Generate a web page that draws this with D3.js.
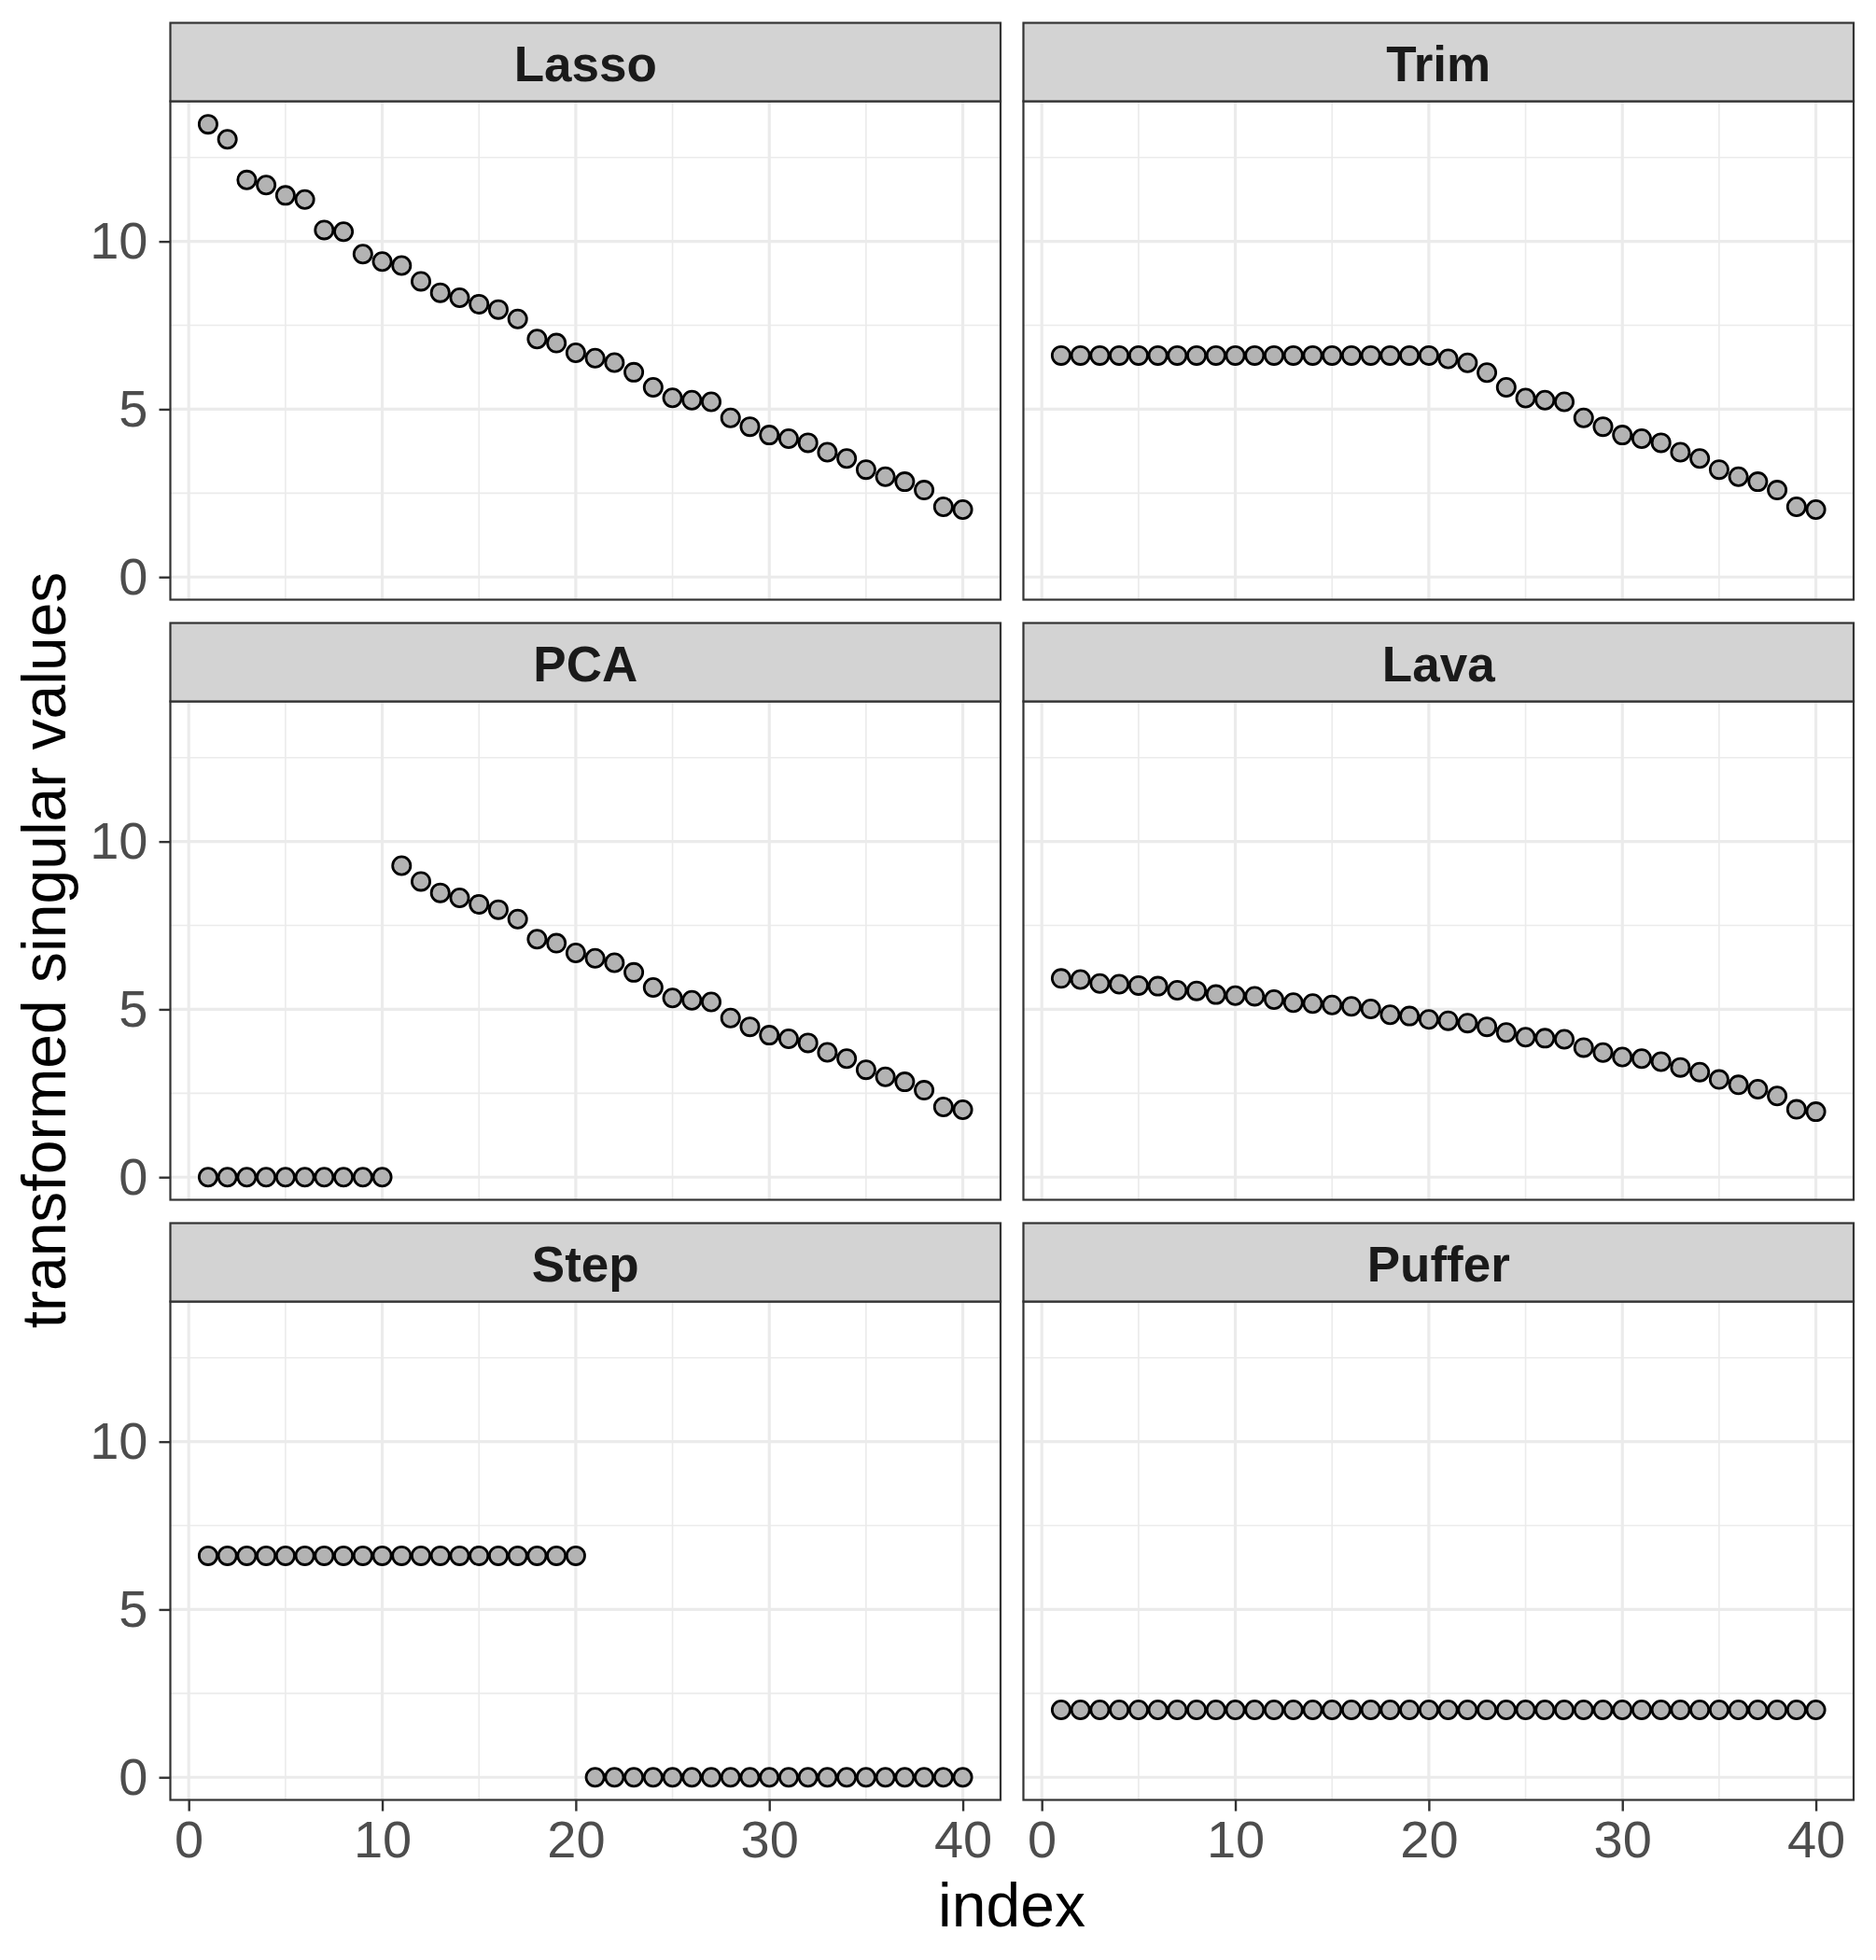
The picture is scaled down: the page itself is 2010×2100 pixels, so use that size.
<!DOCTYPE html>
<html>
<head>
<meta charset="utf-8">
<script src="https://cdn.jsdelivr.net/npm/d3@7"></script>
<style>
  body { margin: 0; background: #fff; }
  svg { font-family: "Liberation Sans", Arial, Helvetica, sans-serif; }
</style>
</head>
<body>
<svg id="chart" width="2010" height="2100"></svg>
<script>
// facet order, left to right then top to bottom
var methods = ["Lasso", "Trim", "PCA", "Lava", "Step", "Puffer"];
var index = d3.range(1, 41);

var lasso = [13.49, 13.04, 11.83, 11.68, 11.37, 11.25, 10.34, 10.29, 9.62, 9.40,
             9.28, 8.81, 8.47, 8.32, 8.13, 7.97, 7.69, 7.09, 6.97, 6.68,
             6.52, 6.39, 6.10, 5.65, 5.34, 5.27, 5.22, 4.74, 4.48, 4.23,
             4.12, 4.00, 3.72, 3.53, 3.20, 2.99, 2.84, 2.59, 2.09, 2.01];
var trim  = [6.60, 6.60, 6.60, 6.60, 6.60, 6.60, 6.60, 6.60, 6.60, 6.60,
             6.60, 6.60, 6.60, 6.60, 6.60, 6.60, 6.60, 6.60, 6.60, 6.60,
             6.50, 6.38, 6.09, 5.65, 5.33, 5.27, 5.22, 4.74, 4.48, 4.23,
             4.12, 4.00, 3.72, 3.53, 3.20, 2.99, 2.84, 2.59, 2.09, 2.01];
var pca   = [0, 0, 0, 0, 0, 0, 0, 0, 0, 0,
             9.28, 8.81, 8.47, 8.32, 8.13, 7.97, 7.69, 7.09, 6.97, 6.68,
             6.52, 6.39, 6.10, 5.65, 5.34, 5.27, 5.22, 4.74, 4.48, 4.23,
             4.12, 4.00, 3.72, 3.53, 3.20, 2.99, 2.84, 2.59, 2.09, 2.01];
var lava  = [5.92, 5.89, 5.77, 5.75, 5.71, 5.69, 5.57, 5.55, 5.44, 5.41,
             5.39, 5.29, 5.20, 5.17, 5.13, 5.09, 5.01, 4.84, 4.80, 4.70,
             4.66, 4.59, 4.48, 4.31, 4.17, 4.14, 4.11, 3.86, 3.71, 3.58,
             3.53, 3.44, 3.27, 3.13, 2.91, 2.75, 2.62, 2.42, 2.02, 1.95];
var step  = [6.60, 6.60, 6.60, 6.60, 6.60, 6.60, 6.60, 6.60, 6.60, 6.60,
             6.60, 6.60, 6.60, 6.60, 6.60, 6.60, 6.60, 6.60, 6.60, 6.60,
             0, 0, 0, 0, 0, 0, 0, 0, 0, 0,
             0, 0, 0, 0, 0, 0, 0, 0, 0, 0];
var puffer = [2.01, 2.01, 2.01, 2.01, 2.01, 2.01, 2.01, 2.01, 2.01, 2.01,
              2.01, 2.01, 2.01, 2.01, 2.01, 2.01, 2.01, 2.01, 2.01, 2.01,
              2.01, 2.01, 2.01, 2.01, 2.01, 2.01, 2.01, 2.01, 2.01, 2.01,
              2.01, 2.01, 2.01, 2.01, 2.01, 2.01, 2.01, 2.01, 2.01, 2.01];

var xTicks = [0, 10, 20, 30, 40],
    xMinor = [5, 15, 25, 35],
    yTicks = [0, 5, 10],
    yMinor = [2.5, 7.5, 12.5];

var series = [lasso, trim, pca, lava, step, puffer];

// layout
var panelW = 889.5, panelH = 534, stripH = 84;
var colX = [182.5, 1096.5],
    rowY = [24.5, 667.5, 1310.5];

var x = d3.scaleLinear().domain([-0.95, 41.95]).range([0, panelW]);
var y = d3.scaleLinear().domain([-0.675, 14.175]).range([panelH, 0]);

var svg = d3.select("#chart");

svg.append("rect")
    .attr("width", 2010)
    .attr("height", 2100)
    .attr("fill", "#fff");

var panel = svg.selectAll(".panel")
    .data(methods)
  .enter().append("g")
    .classed("panel", true)
    .attr("transform", function(d, i) {
      return "translate(" + colX[i % 2] + "," + (rowY[Math.floor(i / 2)] + stripH) + ")";
    });

// grid: minor first, then major
panel.each(function() {
  var g = d3.select(this);
  g.selectAll(".vminor").data(xMinor).enter().append("line")
      .attr("x1", function(d) { return x(d); }).attr("x2", function(d) { return x(d); })
      .attr("y1", 0).attr("y2", panelH)
      .attr("stroke", "#ebebeb").attr("stroke-width", 1.6);
  g.selectAll(".hminor").data(yMinor).enter().append("line")
      .attr("y1", function(d) { return y(d); }).attr("y2", function(d) { return y(d); })
      .attr("x1", 0).attr("x2", panelW)
      .attr("stroke", "#ebebeb").attr("stroke-width", 1.6);
  g.selectAll(".vmajor").data(xTicks).enter().append("line")
      .attr("x1", function(d) { return x(d); }).attr("x2", function(d) { return x(d); })
      .attr("y1", 0).attr("y2", panelH)
      .attr("stroke", "#ebebeb").attr("stroke-width", 3.2);
  g.selectAll(".hmajor").data(yTicks).enter().append("line")
      .attr("y1", function(d) { return y(d); }).attr("y2", function(d) { return y(d); })
      .attr("x1", 0).attr("x2", panelW)
      .attr("stroke", "#ebebeb").attr("stroke-width", 3.2);
});

// points
panel.each(function(m, i) {
  d3.select(this).selectAll("circle")
      .data(series[i])
    .enter().append("circle")
      .attr("cx", function(d, j) { return x(index[j]); })
      .attr("cy", function(d) { return y(d); })
      .attr("r", 9.6)
      .attr("fill", "#b3b3b3")
      .attr("stroke", "#000")
      .attr("stroke-width", 2.8);
});

// panel border
panel.append("rect")
    .attr("width", panelW)
    .attr("height", panelH)
    .attr("fill", "none")
    .attr("stroke", "#333")
    .attr("stroke-width", 2.2);

// strips
panel.append("rect")
    .attr("y", -stripH)
    .attr("width", panelW)
    .attr("height", stripH)
    .attr("fill", "#d3d3d3")
    .attr("stroke", "#333")
    .attr("stroke-width", 2.2);

panel.append("text")
    .attr("x", panelW / 2)
    .attr("y", -stripH + 62)
    .attr("text-anchor", "middle")
    .attr("font-size", 53)
    .attr("font-weight", "bold")
    .attr("fill", "#1a1a1a")
    .text(function(d) { return d; });

// axes: y on left column, x on bottom row
function styleAxis(a) {
  a.select(".domain").remove();
  a.selectAll(".tick line").attr("stroke", "#333").attr("stroke-width", 2.4);
  a.selectAll(".tick text")
      .attr("font-size", 56)
      .attr("fill", "#4d4d4d")
      .attr("font-family", "'Liberation Sans', Arial, Helvetica, sans-serif");
}

panel.filter(function(d, i) { return i % 2 === 0; })
    .append("g")
    .call(d3.axisLeft(y).tickValues(yTicks).tickSize(12).tickPadding(12))
    .call(styleAxis);

panel.filter(function(d, i) { return i >= 4; })
    .append("g")
    .attr("transform", "translate(0," + panelH + ")")
    .call(d3.axisBottom(x).tickValues(xTicks).tickSize(12).tickPadding(10))
    .call(styleAxis);

// axis titles
svg.append("text")
    .attr("x", 1084)
    .attr("y", 2064)
    .attr("text-anchor", "middle")
    .attr("font-size", 66)
    .attr("fill", "#000")
    .text("index");

svg.append("text")
    .attr("transform", "translate(70,1018) rotate(-90)")
    .attr("text-anchor", "middle")
    .attr("font-size", 66)
    .attr("fill", "#000")
    .text("transformed singular values");
</script>
</body>
</html>
